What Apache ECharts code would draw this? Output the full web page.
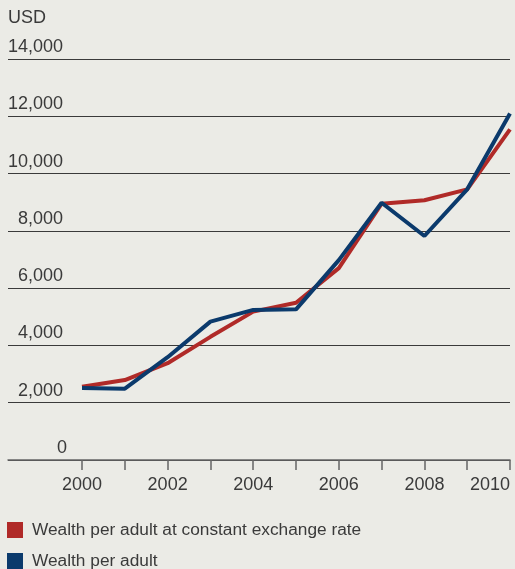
<!DOCTYPE html>
<html><head><meta charset="utf-8">
<script src="https://cdn.jsdelivr.net/npm/echarts@6/dist/echarts.min.js"></script>
<style>html,body{margin:0;padding:0;background:#ebebe6;}#c{width:515px;height:569px;}</style>
</head><body><div id="c"></div>
<script>
const years = [2000,2001,2002,2003,2004,2005,2006,2007,2008,2009,2010];
const yearLabels = [2000,2002,2004,2006,2008,2010];
const constantRate = [2560,2790,3380,4300,5180,5490,6700,8950,9070,9450,11540];
const wealthPerAdult = [2510,2490,3590,4830,5240,5260,6980,8980,7820,9450,12100];
const seriesNames = ['Wealth per adult at constant exchange rate','Wealth per adult'];

const chart = echarts.init(document.getElementById('c'), null, {renderer:'canvas'});
const font = 'Liberation Sans, Arial, sans-serif';
const legendBase = {orient:'vertical', left:7, padding:0, itemWidth:16, itemHeight:16, icon:'rect',
  textStyle:{fontSize:17.3, color:'#3a3a3a', fontFamily:font, lineHeight:18, padding:[0,0,0,4]}};
chart.setOption({
  backgroundColor:'#ebebe6',
  animation:false,
  textStyle:{fontFamily:font},
  grid:{left:8,right:5,top:59,bottom:109,containLabel:false,outerBoundsMode:'none'},
  legend:[
    Object.assign({}, legendBase, {top:521, data:[seriesNames[0]]}),
    Object.assign({}, legendBase, {top:552, data:[seriesNames[1]]})
  ],
  xAxis:{
    type:'value', min:1998.27, max:2010,
    axisLine:{show:true, lineStyle:{color:'#666', width:1.5}},
    axisTick:{show:true, length:10, lineStyle:{color:'#666', width:1.5}, customValues:years},
    axisLabel:{fontSize:18, color:'#3a3a3a', margin:16, customValues:yearLabels, alignMaxLabel:'right',
      formatter:v=>String(v)},
    splitLine:{show:false}
  },
  yAxis:{
    type:'value', min:0, max:14000, interval:2000,
    name:'USD', nameLocation:'end', nameGap:32,
    nameTextStyle:{align:'left', verticalAlign:'bottom', fontSize:18, color:'#3a3a3a'},
    axisLine:{show:false}, axisTick:{show:false},
    axisLabel:{inside:true, margin:59, align:'right', verticalAlign:'bottom', padding:[0,0,3,0],
      fontSize:18, color:'#3a3a3a',
      formatter:v=>v===0?'0':'{n|'+v.toLocaleString('en-US')+'}',
      rich:{n:{fontSize:18, color:'#3a3a3a', padding:[0,4,0,0]}}},
    splitLine:{show:true, lineStyle:{color:'#3a3a3a', width:1}}
  },
  series:[
    {name:seriesNames[0], type:'line',
     data:years.map((y,i)=>[y,constantRate[i]]), showSymbol:false, symbol:'none',
     lineStyle:{color:'#b02a28', width:4}, itemStyle:{color:'#b02a28'}},
    {name:seriesNames[1], type:'line',
     data:years.map((y,i)=>[y,wealthPerAdult[i]]), showSymbol:false, symbol:'none',
     lineStyle:{color:'#0b3a6c', width:4}, itemStyle:{color:'#0b3a6c'}}
  ]
});
</script></body></html>
